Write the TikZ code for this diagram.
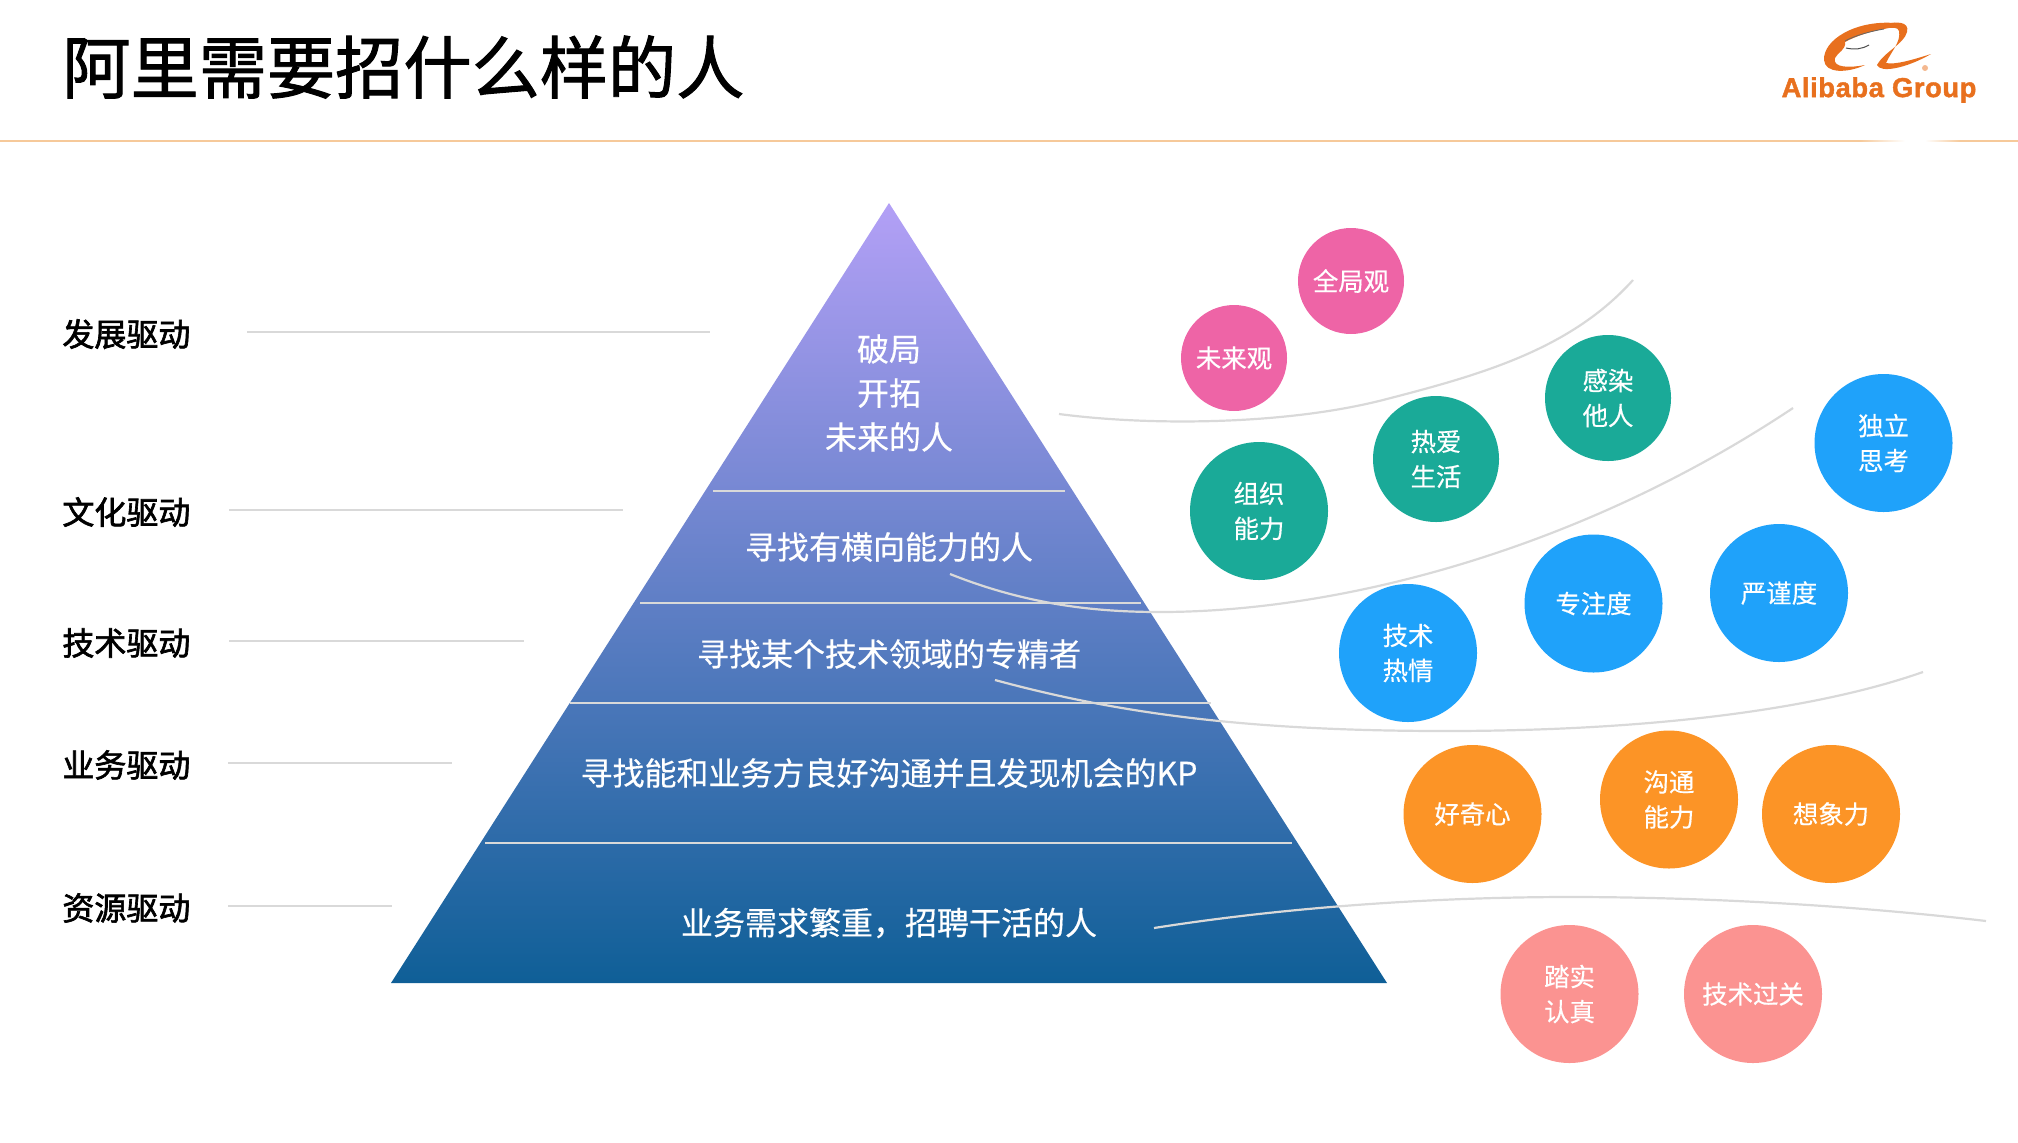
\documentclass[tikz,border=0pt]{standalone}
\usepackage{fontspec}
\setmainfont{Noto Sans CJK SC}
\newfontfamily\titlefont[FakeBold=1.4]{Noto Sans CJK SC}
\newfontfamily\labelfont[FakeBold=2]{Noto Sans CJK SC}
\newfontfamily\ballfont[FakeBold=0.4]{Noto Sans CJK SC}
\newfontfamily\logofont[BoldFont={Liberation Sans Bold},BoldFeatures={FakeBold=1.5,LetterSpace=2}]{Liberation Sans}
\usetikzlibrary{calc}
\definecolor{cpink}{HTML}{EE64A6}
\definecolor{cteal}{HTML}{1AAA98}
\definecolor{cblue}{HTML}{1FA2FA}
\definecolor{corange}{HTML}{FC9426}
\definecolor{csalmon}{HTML}{FB9391}
\definecolor{ctop}{HTML}{B3A0F6}
\definecolor{cbot}{HTML}{0F5F97}
\definecolor{cline}{HTML}{D9D9D9}
\definecolor{chead}{HTML}{F6C99A}
\definecolor{clogo}{HTML}{E8701E}
\tikzset{
  ball/.style={circle,inner sep=0pt,text=white,align=center,font=\fontsize{12.7}{17.5}\ballfont},
  ballm/.style={ball,minimum size=53pt},
  balll/.style={ball,minimum size=69pt},
  ballx/.style={ball,minimum size=63pt},
  layertext/.style={text=white,align=center,inner sep=0pt,font=\fontsize{16}{22}\ballfont},
  sidelabel/.style={anchor=west,inner sep=0pt,font=\fontsize{16}{20}\labelfont},
  guide/.style={draw=cline,line width=1pt},
  layerline/.style={draw=cline,line width=1pt},
  curveline/.style={draw=cline,line width=1.1pt},
}
\begin{document}
\begin{tikzpicture}[x=0.5pt,y=-0.5pt]
\useasboundingbox (0,0) rectangle (2018,1142);
% header
\node[anchor=west,inner sep=0pt,font=\fontsize{34.1}{40}\titlefont] (title) at (62,67) {阿里需要招什么样的人};
\draw[chead,line width=0.8pt] (0,141) -- (1860,141);
\shade[left color=chead,right color=white] (1860,140.2) rectangle (1905,141.8);
\shade[left color=white,right color=chead] (1925,140.2) rectangle (1960,141.8);
\draw[chead,line width=0.8pt] (1960,141) -- (2018,141);
% logo
\fill[clogo] (1895,23) .. controls (1855,20) and (1823,40) .. (1824,60)
  .. controls (1825,74) and (1848,73) .. (1865,65)
  .. controls (1850,68) and (1832,68) .. (1835,58)
  .. controls (1838,52) and (1846,50) .. (1845,42)
  .. controls (1856,36) and (1872,31) .. (1884,29) -- cycle;
\fill[clogo] (1883,25) .. controls (1895,21) and (1910,21) .. (1907,32)
  .. controls (1904,44) and (1884,52) .. (1877,65)
  .. controls (1880,73) and (1905,69) .. (1931,54)
  .. controls (1912,60) and (1895,65) .. (1886,63)
  .. controls (1892,50) and (1901,42) .. (1899,31)
  .. controls (1898,27) and (1892,27) .. (1884,29) -- cycle;
\draw[black!70,line width=0.5pt] (1846,48) .. controls (1855,50) and (1862,49) .. (1869,45);
\draw[black!60,line width=0.4pt] (1845,41) .. controls (1856,35) and (1872,31) .. (1884,29);
\fill[clogo!50] (1925,68) circle (3);
\node[inner sep=0pt,text=clogo,font=\fontsize{13.7}{16}\logofont\bfseries] (logotext) at (1879,90) {Alibaba Group};
% pyramid
\coordinate (apex) at (889,203); \coordinate (bl) at (391,983); \coordinate (br) at (1387,983);
\shade[top color=ctop,bottom color=cbot] (apex) -- (bl) -- (br) -- cycle;
\coordinate (a1) at (713,491); \coordinate (b1) at (1065,491);
\coordinate (a2) at (640,603); \coordinate (b2) at (1141,603);
\coordinate (a3) at (570,703); \coordinate (b3) at (1211,703);
\coordinate (a4) at (485,843); \coordinate (b4) at (1292,843);
\draw[layerline] (a1) -- (b1);
\draw[layerline] (a2) -- (b2);
\draw[layerline] (a3) -- (b3);
\draw[layerline] (a4) -- (b4);
\node[layertext] (t1) at (889,393) {破局\\开拓\\未来的人};
\node[layertext] (t2) at (889,547) {寻找有横向能力的人};
\node[layertext] (t3) at (889,654) {寻找某个技术领域的专精者};
\node[layertext] (t4) at (889,773) {寻找能和业务方良好沟通并且发现机会的KP};
\node[layertext] (t5) at (889,923) {业务需求繁重，招聘干活的人};
% side labels
\node[sidelabel] (l1) at (62,334) {发展驱动};
\node[sidelabel] (l2) at (62,512) {文化驱动};
\node[sidelabel] (l3) at (62,643) {技术驱动};
\node[sidelabel] (l4) at (62,765) {业务驱动};
\node[sidelabel] (l5) at (62,908) {资源驱动};
\coordinate (g1a) at (247,332); \coordinate (g1b) at (710,332);
\coordinate (g2a) at (229,510); \coordinate (g2b) at (623,510);
\coordinate (g3a) at (229,641); \coordinate (g3b) at (524,641);
\coordinate (g4a) at (228,763); \coordinate (g4b) at (452,763);
\coordinate (g5a) at (228,906); \coordinate (g5b) at (392,906);
\draw[guide] (g1a) -- (g1b);
\draw[guide] (g2a) -- (g2b);
\draw[guide] (g3a) -- (g3b);
\draw[guide] (g4a) -- (g4b);
\draw[guide] (g5a) -- (g5b);
% circles
\node[ballm,fill=cpink] (c1) at (1351,281) {全局观};
\node[ballm,fill=cpink] (c2) at (1234,358) {未来观};
\node[ballx,fill=cteal] (c3) at (1608,398) {感染\\他人};
\node[ballx,fill=cteal] (c4) at (1436,459) {热爱\\生活};
\node[balll,fill=cteal] (c5) at (1259,511) {组织\\能力};
\node[balll,fill=cblue] (c6) at (1883.5,443) {独立\\思考};
\node[balll,fill=cblue] (c7) at (1779,593) {严谨度};
\node[balll,fill=cblue] (c8) at (1593.5,603.5) {专注度};
\node[balll,fill=cblue] (c9) at (1408,653) {技术\\热情};
\node[balll,fill=corange] (c10) at (1472.5,814) {好奇心};
\node[balll,fill=corange] (c11) at (1669,799.5) {沟通\\能力};
\node[balll,fill=corange] (c12) at (1831,814) {想象力};
\node[balll,fill=csalmon] (c13) at (1569.5,994) {踏实\\认真};
\node[balll,fill=csalmon] (c14) at (1753,994) {技术过关};
% curves
\coordinate (k1s) at (1059,414); \coordinate (k1m) at (1383,400); \coordinate (k1e) at (1633,280);
\coordinate (k2s) at (950,574); \coordinate (k2m) at (1160,612); \coordinate (k2e) at (1793,408);
\coordinate (k3s) at (995,680); \coordinate (k3m) at (1446,731); \coordinate (k3e) at (1923,672);
\coordinate (k4s) at (1154,928); \coordinate (k4m) at (1570,897); \coordinate (k4e) at (1986,921);
\draw[curveline] (k1s) .. controls (1150,426) and (1285,425) .. (k1m) .. controls (1480,375) and (1570,350) .. (k1e);
\draw[curveline] (k2s) .. controls (1030,606) and (1100,612) .. (k2m) .. controls (1340,612) and (1580,550) .. (k2e);
\draw[curveline] (k3s) .. controls (1120,714) and (1250,731) .. (k3m) .. controls (1620,731) and (1800,715) .. (k3e);
\draw[curveline] (k4s) .. controls (1300,905) and (1450,897) .. (k4m) .. controls (1700,897) and (1850,905) .. (k4e);
\end{tikzpicture}
\end{document}
